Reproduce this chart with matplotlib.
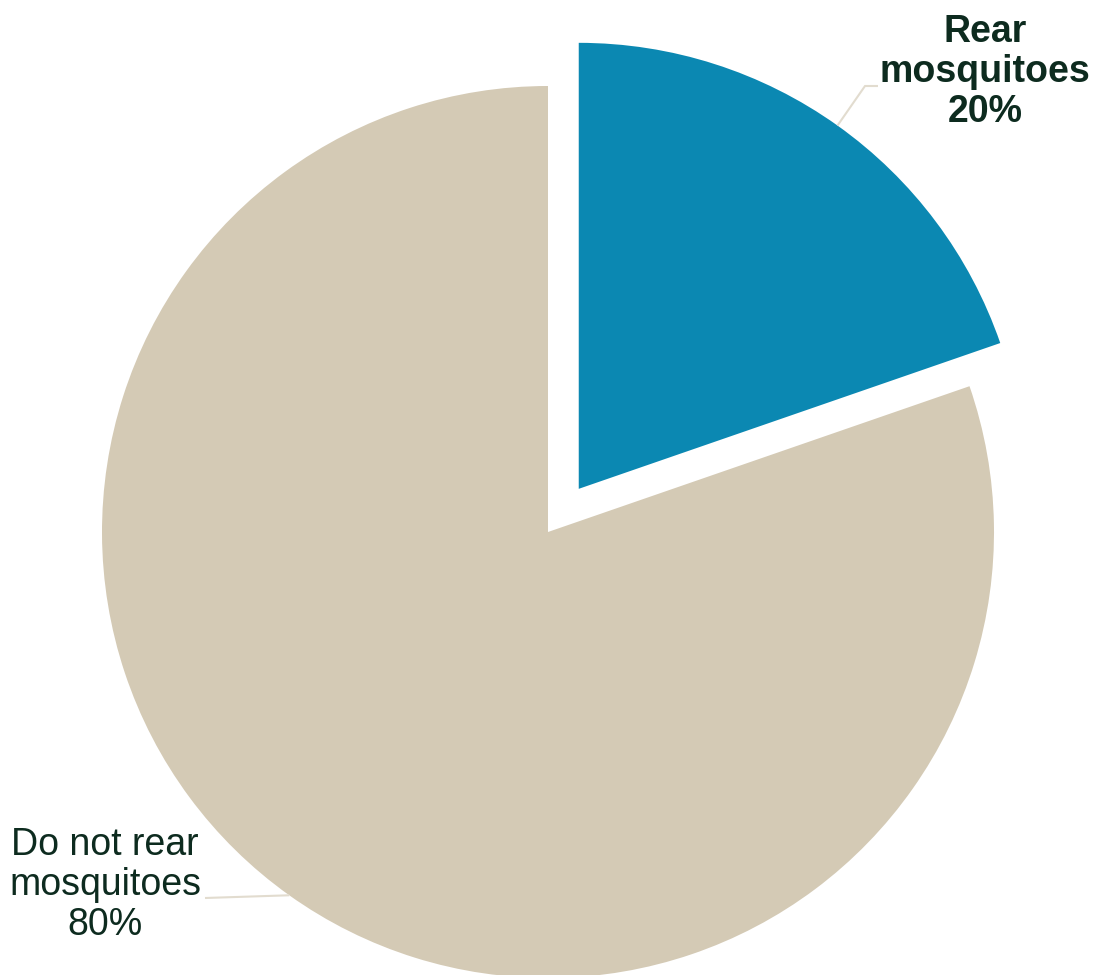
import numpy as np
import matplotlib
matplotlib.use("Agg")
import matplotlib.pyplot as plt

# datos del grafico (porcentajes; la etiqueta los redondea)
categorias = ["Rear\nmosquitoes", "Do not rear\nmosquitoes"]
porcentajes = [19.7, 80.3]
colores = ["#0B88B2", "#D4CAB5"]
pesos = ["bold", "normal"]

plt.rcParams['font.family'] = ['Liberation Sans', 'DejaVu Sans']

fig = plt.figure(figsize=(10.97, 9.75), dpi=100)
ax = fig.add_axes([0, 0, 1, 1])

centro = (548, 443)
radio = 446
explode = [53, 0]  # en unidades de datos (pixeles)
wedges, _ = ax.pie(porcentajes, colors=colores, startangle=90, counterclock=False,
                   explode=explode, center=centro, radius=radio,
                   wedgeprops=dict(linewidth=0))
ax.set_xlim(0, 1097)
ax.set_ylim(0, 975)
ax.set_aspect('equal')
ax.axis('off')

# posiciones de etiquetas y codos de las lineas guia
pos_texto = [(985, 903), (105, 90)]
codos = [[(865, 889), (878, 889)], [(205, 77)]]
color_texto = "#0D2B1F"
color_linea = "#E2DCCF"

for w, cat, pct, peso, pt, codo in zip(wedges, categorias, porcentajes, pesos, pos_texto, codos):
    ang = np.deg2rad((w.theta1 + w.theta2) / 2)
    cx, cy = w.center
    x0 = cx + w.r * np.cos(ang)
    y0 = cy + w.r * np.sin(ang)
    xs = [x0] + [c[0] for c in codo]
    ys = [y0] + [c[1] for c in codo]
    ax.plot(xs, ys, color=color_linea, lw=1.5, solid_capstyle='butt')
    ax.text(pt[0], pt[1], f"{cat}\n{round(pct)}%", ha='center', va='center', fontsize=27,
            fontweight=peso, color=color_texto, linespacing=1.15)

fig.savefig("out.png", dpi=100)
